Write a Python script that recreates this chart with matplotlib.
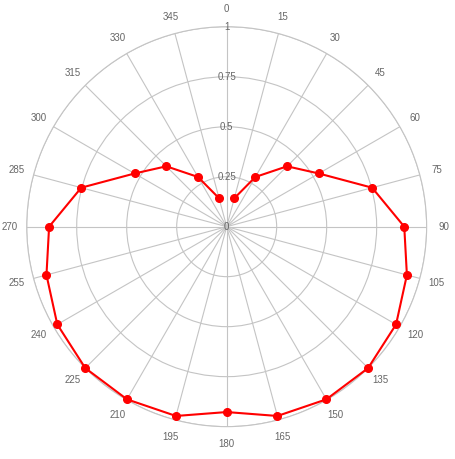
import numpy as np
import matplotlib.pyplot as plt

# Valores (ângulo em graus, raio de 0 a 1)
angles = [15, 30, 45, 60, 75, 90, 105, 120, 135, 150, 165, 180,
          195, 210, 225, 240, 255, 270, 285, 300, 315, 330, 345]
values = [0.147, 0.287, 0.427, 0.532, 0.753, 0.888, 0.933, 0.978, 1.0, 0.997, 0.98, 0.927,
          0.98, 0.997, 1.0, 0.978, 0.933, 0.888, 0.753, 0.532, 0.427, 0.287, 0.147]

theta_ticks = list(range(0, 360, 15))
r_ticks = [0.25, 0.5, 0.75, 1]
r_labels = ['0.25', '0.5', '0.75', '1']

plt.rcParams['font.family'] = ['Liberation Sans', 'DejaVu Sans']
text_color = '#666666'
grid_color = '#c4c4c4'

fig = plt.figure(figsize=(4.55, 4.59), dpi=100)
ax = fig.add_axes([0.0587, 0.0704, 0.879, 0.8715], projection='polar')
ax.set_theta_zero_location('N')
ax.set_theta_direction(-1)
ax.set_ylim(0, 1)

ax.plot(np.deg2rad(angles), values, color='#ff0000', linewidth=1.5,
        marker='o', markersize=5.5, zorder=5, clip_on=False)

# Grades
ax.set_thetagrids(theta_ticks, [str(t) for t in theta_ticks])
ax.set_rgrids(r_ticks, [''] * len(r_ticks))
ax.grid(color=grid_color, linewidth=0.8)
ax.spines['polar'].set_color(grid_color)
ax.spines['polar'].set_linewidth(0.8)
ax.tick_params(axis='x', colors=text_color, labelsize=7, pad=2)

# Rótulos radiais sobre o eixo de 0 grau
for r, lab in zip([0] + r_ticks, ['0'] + r_labels):
    ax.text(0, r, lab, ha='center', va='center', fontsize=7, color=text_color, zorder=4)

fig.savefig('out.png', dpi=100)
